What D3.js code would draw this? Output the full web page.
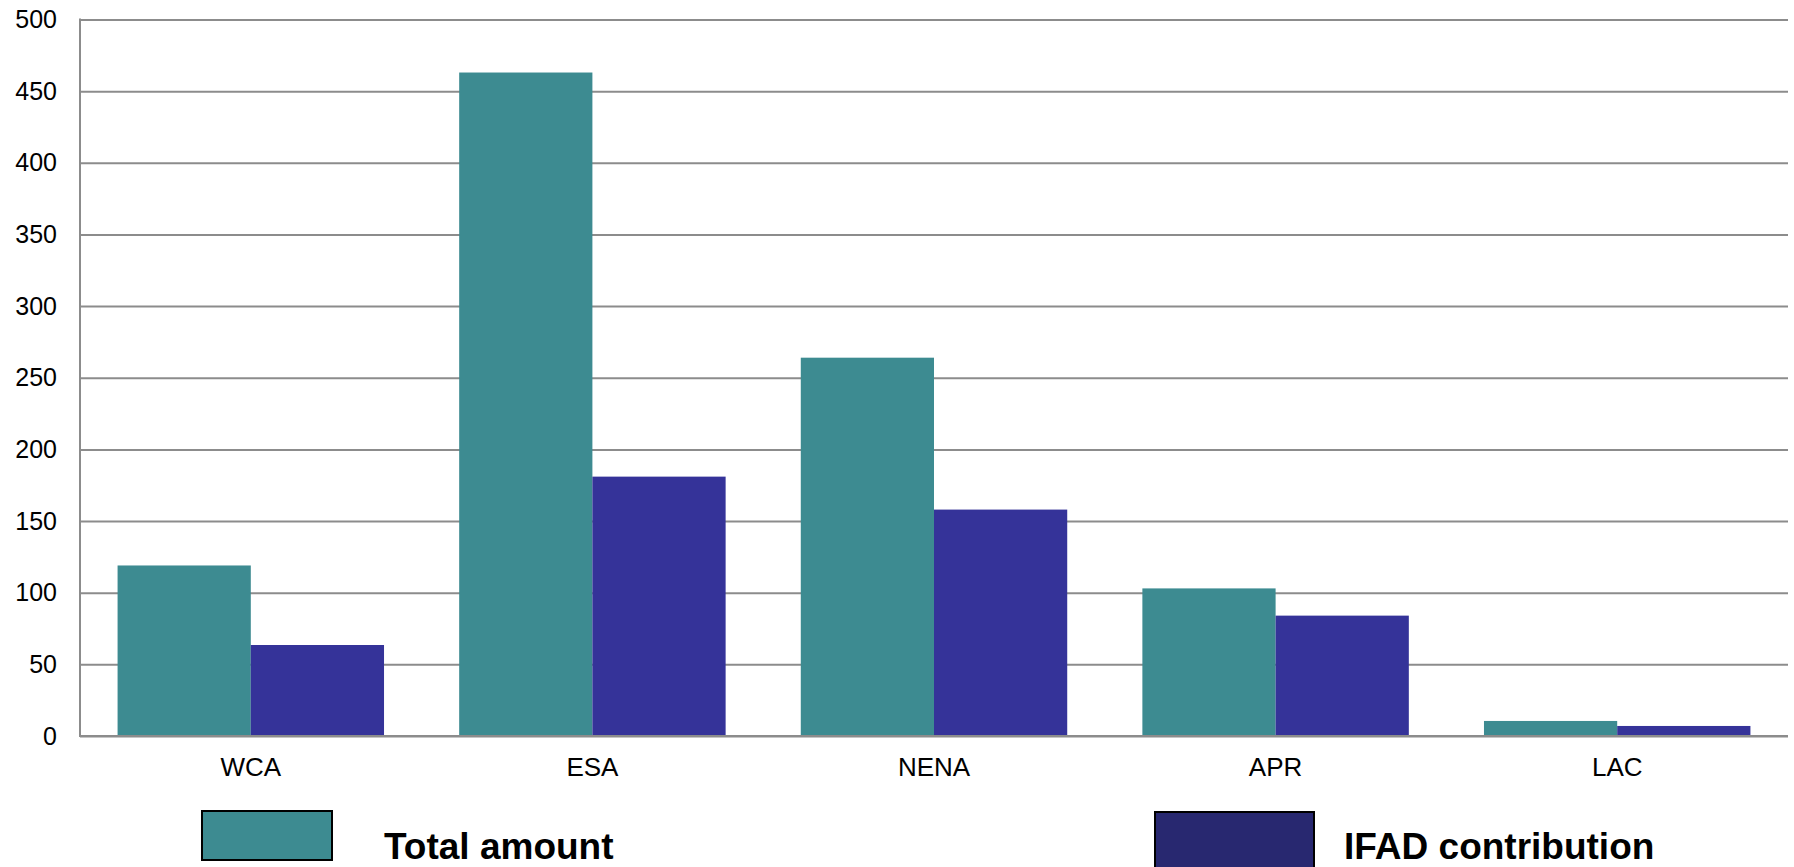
<!DOCTYPE html>
<html>
<head>
<meta charset="utf-8">
<script src="https://cdn.jsdelivr.net/npm/d3@7"></script>
<style>
    body { margin: 0; background: #fff; }
    svg { display: block; font-family: "Liberation Sans", Arial, sans-serif; }
    .grid line { stroke: #8c8c8c; stroke-width: 2; }
    .axis-line { stroke: #8c8c8c; stroke-width: 2; }
</style>
</head>
<body>
<svg id="chart"></svg>
<script>
// data
const categories = ['WCA', 'ESA', 'NENA', 'APR', 'LAC'];
const totalAmount = [119, 463, 264, 103, 10.5];
const ifadContribution = [63.5, 181, 158, 84, 7];
const seriesNames = ['Total amount', 'IFAD contribution'];
const yTicks = [0, 50, 100, 150, 200, 250, 300, 350, 400, 450, 500];

class GroupedBarChart {

    constructor(_config) {
        this.config = {
            parentElement: _config.parentElement,
            containerWidth: _config.containerWidth || 1794,
            containerHeight: _config.containerHeight || 867,
            margin: _config.margin || { top: 19.5, right: 6, bottom: 131, left: 80 },
            colors: ['#3d8b91', '#353399'],
            legendColors: ['#3d8b91', '#282870']
        };
        this.initVis();
    }

    initVis() {
        let vis = this;

        vis.width = vis.config.containerWidth - vis.config.margin.left - vis.config.margin.right;
        vis.height = vis.config.containerHeight - vis.config.margin.top - vis.config.margin.bottom;

        vis.svg = d3.select(vis.config.parentElement)
            .attr('width', vis.config.containerWidth)
            .attr('height', vis.config.containerHeight);

        vis.chart = vis.svg.append('g')
            .attr('transform', `translate(${vis.config.margin.left},${vis.config.margin.top})`);

        vis.xScale = d3.scaleBand()
            .domain(categories)
            .range([0, vis.width])
            .paddingInner(0.22)
            .paddingOuter(0.11);

        vis.xSub = d3.scaleBand()
            .domain(seriesNames)
            .range([0, vis.xScale.bandwidth()]);

        vis.yScale = d3.scaleLinear()
            .domain([0, 500])
            .range([vis.height, 0]);

        // gridlines + tick labels
        vis.yAxis = d3.axisLeft(vis.yScale)
            .tickValues(yTicks)
            .tickSize(-vis.width)
            .tickPadding(23);

        vis.xAxis = d3.axisBottom(vis.xScale)
            .tickSize(0)
            .tickPadding(22);

        vis.yAxisG = vis.chart.append('g').attr('class', 'axis grid');
        vis.marks = vis.chart.append('g');
        vis.xAxisG = vis.chart.append('g')
            .attr('class', 'axis x-axis')
            .attr('transform', `translate(0,${vis.height})`);

        vis.legend = vis.svg.append('g');
    }

    updateVis() {
        let vis = this;
        vis.data = categories.map((c, i) => ({
            category: c,
            values: [
                { key: seriesNames[0], value: totalAmount[i] },
                { key: seriesNames[1], value: ifadContribution[i] }
            ]
        }));
        vis.renderVis();
    }

    renderVis() {
        let vis = this;

        vis.yAxisG.call(vis.yAxis);
        vis.yAxisG.select('.domain').remove();
        vis.yAxisG.selectAll('text')
            .attr('font-size', 25)
            .attr('fill', '#000');

        const groups = vis.marks.selectAll('.group')
            .data(vis.data)
            .join('g')
            .attr('class', 'group')
            .attr('transform', d => `translate(${vis.xScale(d.category)},0)`);

        groups.selectAll('rect')
            .data(d => d.values)
            .join('rect')
            .attr('x', d => vis.xSub(d.key))
            .attr('y', d => vis.yScale(d.value))
            .attr('width', vis.xSub.bandwidth())
            .attr('height', d => vis.yScale(0) - vis.yScale(d.value))
            .attr('fill', (d, i) => vis.config.colors[i]);

        vis.xAxisG.call(vis.xAxis);
        vis.xAxisG.select('.domain').remove();
        vis.xAxisG.selectAll('text')
            .attr('font-size', 26)
            .attr('fill', '#000');

        // axis lines
        vis.chart.append('line')
            .attr('class', 'axis-line')
            .attr('x1', 0).attr('x2', vis.width)
            .attr('y1', vis.yScale(0)).attr('y2', vis.yScale(0));
        vis.chart.append('line')
            .attr('class', 'axis-line')
            .attr('x1', 0).attr('x2', 0)
            .attr('y1', vis.yScale(500) - 1).attr('y2', vis.yScale(0) + 1);

        // legend
        const legendItems = [
            { box: [202, 811, 130, 49], textX: 384 },
            { box: [1155, 812, 159, 60], textX: 1344 }
        ];
        legendItems.forEach((l, i) => {
            vis.legend.append('rect')
                .attr('x', l.box[0]).attr('y', l.box[1])
                .attr('width', l.box[2]).attr('height', l.box[3])
                .attr('fill', vis.config.legendColors[i])
                .attr('stroke', '#000')
                .attr('stroke-width', 2);
            vis.legend.append('text')
                .attr('x', l.textX)
                .attr('y', 859)
                .attr('font-size', 37)
                .attr('font-weight', 'bold')
                .attr('fill', '#000')
                .text(seriesNames[i]);
        });
    }
}

const chart = new GroupedBarChart({ parentElement: '#chart' });
chart.updateVis();
</script>
</body>
</html>
